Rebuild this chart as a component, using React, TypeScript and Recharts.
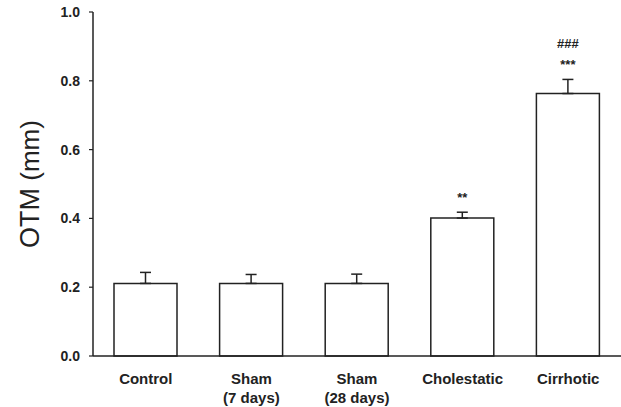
import { BarChart, Bar, XAxis, YAxis, ErrorBar, LabelList, Label } from 'recharts'

const groups = ['Control', 'Sham\n(7 days)', 'Sham\n(28 days)', 'Cholestatic', 'Cirrhotic']
const otmMean = [0.211, 0.211, 0.211, 0.401, 0.763]
const otmSem = [0.032, 0.026, 0.027, 0.017, 0.041]
const vsControl = ['', '', '', '**', '***']
const vsCholestatic = ['', '', '', '', '###']
const yTicks = [0, 0.2, 0.4, 0.6, 0.8, 1.0]

const FONT = 'Arial, "Liberation Sans", sans-serif'
const INK = '#222'

const data = groups.map((g, i) => ({
  group: g,
  otm: otmMean[i],
  err: [0, otmSem[i]],
}))

function GroupTick(props: any) {
  const { x, y, payload } = props
  const lines = String(payload.value).split('\n')
  return (
    <text x={x} y={y} textAnchor="middle" fontFamily={FONT} fontWeight="bold" fontSize={15} fill={INK}>
      {lines.map((l, i) => (
        <tspan key={i} x={x} dy={i === 0 ? 20 : 19}>
          {l}
        </tspan>
      ))}
    </text>
  )
}

function SigMarks(props: any) {
  const { x, y, width, height, index } = props
  const v = otmMean[index]
  const pxPerUnit = height / v
  const errTop = y - otmSem[index] * pxPerUnit
  const cx = x + width / 2
  return (
    <g fontFamily={FONT} fontWeight="bold" fontSize={13} fill={INK} textAnchor="middle">
      {vsControl[index] && (
        <text x={cx} y={errTop - 10}>
          {vsControl[index]}
        </text>
      )}
      {vsCholestatic[index] && (
        <text x={cx} y={errTop - 31}>
          {vsCholestatic[index]}
        </text>
      )}
    </g>
  )
}

function YTitle(props: any) {
  const { viewBox } = props
  const cx = viewBox.x + 30
  const cy = viewBox.y + viewBox.height / 2
  return (
    <text
      x={cx}
      y={cy}
      transform={`rotate(-90 ${cx} ${cy})`}
      textAnchor="middle"
      dominantBaseline="central"
      fontFamily={FONT}
      fill={INK}
    >
      <tspan fontSize={27}>OTM</tspan>
      <tspan fontSize={26}> (mm)</tspan>
    </text>
  )
}

export default function App() {
  return (
    <div style={{ position: 'absolute', left: 0, top: 0, width: 621, height: 407, background: '#fff' }}>
      <BarChart width={621} height={407} data={data} margin={{ top: 12, right: 0, left: 0, bottom: 0 }}>
        <XAxis
          dataKey="group"
          height={51}
          tick={<GroupTick />}
          tickLine={false}
          axisLine={{ stroke: INK, strokeWidth: 1.5 }}
          interval={0}
        />
        <YAxis
          width={93}
          domain={[0, 1]}
          ticks={yTicks}
          tickFormatter={(v: number) => v.toFixed(1)}
          tickSize={4}
          tickMargin={9}
          tick={{ fill: INK, fontSize: 14, fontWeight: 'bold', fontFamily: FONT }}
          tickLine={{ stroke: INK, strokeWidth: 1.2 }}
          axisLine={{ stroke: INK, strokeWidth: 1.5 }}
        >
          <Label content={<YTitle />} />
        </YAxis>
        <Bar dataKey="otm" barSize={63} fill="#fff" stroke={INK} strokeWidth={1.5} isAnimationActive={false}>
          <ErrorBar dataKey="err" width={5.5} stroke={INK} strokeWidth={1.5} direction="y" />
          <LabelList dataKey="otm" content={<SigMarks />} />
        </Bar>
      </BarChart>
    </div>
  )
}
